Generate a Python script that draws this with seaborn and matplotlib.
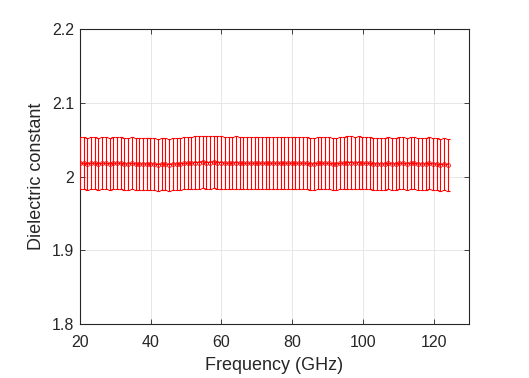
import numpy as np
import pandas as pd
import matplotlib
matplotlib.use("Agg")
import matplotlib.pyplot as plt
from matplotlib.ticker import FuncFormatter
import seaborn as sns

# Frecuencias (GHz)
frecuencias = [
    20.00, 21.05, 22.10, 23.15, 24.20, 25.25, 26.30, 27.35, 28.40, 29.45,
    30.50, 31.55, 32.60, 33.65, 34.70, 35.75, 36.80, 37.85, 38.90, 39.95,
    41.00, 42.05, 43.10, 44.15, 45.20, 46.25, 47.30, 48.35, 49.40, 50.45,
    51.50, 52.55, 53.60, 54.65, 55.70, 56.75, 57.80, 58.85, 59.90, 60.95,
    62.00, 63.05, 64.10, 65.15, 66.20, 67.25, 68.30, 69.35, 70.40, 71.45,
    72.50, 73.55, 74.60, 75.65, 76.70, 77.75, 78.80, 79.85, 80.90, 81.95,
    83.00, 84.05, 85.10, 86.15, 87.20, 88.25, 89.30, 90.35, 91.40, 92.45,
    93.50, 94.55, 95.60, 96.65, 97.70, 98.75, 99.80, 100.85, 101.90, 102.95,
    104.00, 105.05, 106.10, 107.15, 108.20, 109.25, 110.30, 111.35, 112.40, 113.45,
    114.50, 115.55, 116.60, 117.65, 118.70, 119.75, 120.80, 121.85, 122.90, 123.95,
]

# Constante dieléctrica media
constante = [
    2.018, 2.018, 2.017, 2.018, 2.018, 2.017, 2.018, 2.018, 2.017, 2.018,
    2.018, 2.018, 2.017, 2.017, 2.018, 2.017, 2.017, 2.017, 2.017, 2.017,
    2.017, 2.016, 2.017, 2.017, 2.016, 2.017, 2.017, 2.017, 2.018, 2.018,
    2.018, 2.019, 2.019, 2.020, 2.019, 2.019, 2.020, 2.019, 2.019, 2.018,
    2.018, 2.018, 2.019, 2.018, 2.018, 2.018, 2.018, 2.018, 2.018, 2.018,
    2.018, 2.018, 2.018, 2.018, 2.018, 2.018, 2.018, 2.018, 2.018, 2.018,
    2.018, 2.018, 2.017, 2.017, 2.018, 2.018, 2.018, 2.018, 2.017, 2.017,
    2.018, 2.018, 2.019, 2.019, 2.018, 2.019, 2.018, 2.018, 2.018, 2.017,
    2.017, 2.017, 2.017, 2.018, 2.017, 2.017, 2.018, 2.018, 2.017, 2.018,
    2.018, 2.017, 2.017, 2.017, 2.018, 2.017, 2.017, 2.016, 2.017, 2.016,
]

# Incertidumbre (+/-)
error = [
    0.0355, 0.0355, 0.0355, 0.0355, 0.0355, 0.0355, 0.0355, 0.0355, 0.0355, 0.0355,
    0.0355, 0.0355, 0.0355, 0.0355, 0.0355, 0.0355, 0.0355, 0.0355, 0.0355, 0.0355,
    0.0355, 0.0355, 0.0355, 0.0355, 0.0355, 0.0355, 0.0355, 0.0355, 0.0355, 0.0355,
    0.0355, 0.0355, 0.0355, 0.0355, 0.0355, 0.0355, 0.0355, 0.0355, 0.0355, 0.0355,
    0.0355, 0.0355, 0.0355, 0.0355, 0.0355, 0.0355, 0.0355, 0.0355, 0.0355, 0.0355,
    0.0355, 0.0355, 0.0355, 0.0355, 0.0355, 0.0355, 0.0355, 0.0355, 0.0355, 0.0355,
    0.0355, 0.0355, 0.0355, 0.0355, 0.0355, 0.0355, 0.0355, 0.0355, 0.0355, 0.0355,
    0.0355, 0.0355, 0.0355, 0.0355, 0.0355, 0.0355, 0.0355, 0.0355, 0.0355, 0.0355,
    0.0355, 0.0355, 0.0355, 0.0355, 0.0355, 0.0355, 0.0355, 0.0355, 0.0355, 0.0355,
    0.0355, 0.0355, 0.0355, 0.0355, 0.0355, 0.0355, 0.0355, 0.0355, 0.0355, 0.0355,
]

df = pd.DataFrame({"freq": frecuencias, "eps": constante, "err": error})

sns.set_style("ticks")
plt.rcParams["font.family"] = ["Liberation Sans", "DejaVu Sans"]

fig = plt.figure(figsize=(5.29, 3.78), dpi=100)
ax = fig.add_axes([0.151, 0.143, 0.736, 0.780])

# Barras de error
ax.errorbar(df["freq"], df["eps"], yerr=df["err"], fmt="none",
            ecolor="red", elinewidth=0.8, capsize=1.55, capthick=0.8, zorder=3)

# Línea media con marcadores
sns.lineplot(data=df, x="freq", y="eps", ax=ax, color="red", linewidth=0.8,
             marker="o", markersize=2.8, markerfacecolor="none",
             markeredgecolor="red", markeredgewidth=0.6, zorder=4)

ax.set_xlim(20, 130)
ax.set_ylim(1.8, 2.2)
ax.set_xticks([20, 40, 60, 80, 100, 120])
ax.set_yticks([1.8, 1.9, 2.0, 2.1, 2.2])
ax.yaxis.set_major_formatter(FuncFormatter(lambda v, p: f"{v:g}"))

ax.grid(True, color="#e3e3e3", linewidth=0.6)
ax.set_axisbelow(True)

for s in ax.spines.values():
    s.set_visible(True)
    s.set_color("#262626")
    s.set_linewidth(0.8)

ax.tick_params(direction="in", length=3.5, width=0.6, colors="#262626",
               labelsize=11.5, top=True, right=True)
ax.tick_params(axis="x", pad=8)
ax.tick_params(axis="y", pad=4)

ax.set_xlabel("Frequency (GHz)", fontsize=13, color="#262626", labelpad=5)
ax.set_ylabel("Dielectric constant", fontsize=13, color="#262626", labelpad=5)

fig.savefig("out.png", dpi=100, facecolor="white")
